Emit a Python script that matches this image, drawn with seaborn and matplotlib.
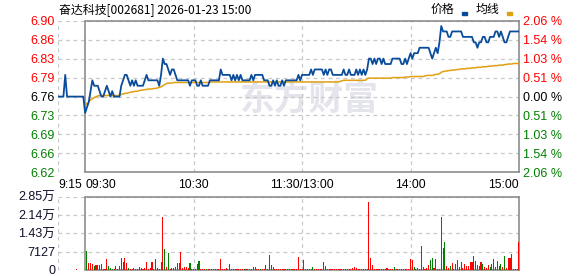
import numpy as np
import pandas as pd
import matplotlib
matplotlib.use("Agg")
import matplotlib.pyplot as plt
from matplotlib.patches import Rectangle
import seaborn as sns

# ---------------- data ----------------
title = "奋达科技[002681] 2026-01-23 15:00"
pre_close = 6.76
limit_pct = 0.0206

pre_minutes = list(range(-15, 0))          # 9:15 .. 9:29
pre_price = [6.76, 6.76, 6.76, 6.76, 6.80, 6.76, 6.76, 6.76, 6.76, 6.76,
             6.76, 6.76, 6.76, 6.76, 6.76]

session_minutes = list(range(0, 241))      # 9:30 .. 11:30 | 13:00 .. 15:00
session_price = [
    6.73, 6.74, 6.75, 6.77, 6.79, 6.78, 6.78, 6.78, 6.77, 6.76,
    6.76, 6.77, 6.78, 6.77, 6.76, 6.77, 6.76, 6.76, 6.76, 6.76,
    6.78, 6.79, 6.80, 6.80, 6.79, 6.78, 6.79, 6.78, 6.79, 6.78,
    6.78, 6.78, 6.78, 6.79, 6.80, 6.79, 6.79, 6.79, 6.79, 6.79,
    6.79, 6.78, 6.80, 6.83, 6.82, 6.82, 6.81, 6.80, 6.81, 6.81,
    6.80, 6.79, 6.79, 6.79, 6.79, 6.79, 6.79, 6.79, 6.78, 6.79,
    6.79, 6.79, 6.78, 6.78, 6.79, 6.78, 6.78, 6.78, 6.78, 6.79,
    6.79, 6.79, 6.79, 6.79, 6.79, 6.81, 6.80, 6.80, 6.80, 6.80,
    6.80, 6.79, 6.80, 6.79, 6.80, 6.79, 6.80, 6.79, 6.79, 6.79,
    6.79, 6.79, 6.80, 6.79, 6.80, 6.80, 6.80, 6.80, 6.80, 6.79,
    6.79, 6.79, 6.78, 6.78, 6.79, 6.78, 6.79, 6.78, 6.78, 6.79,
    6.78, 6.79, 6.79, 6.79, 6.79, 6.79, 6.79, 6.79, 6.80, 6.79,
    6.80, 6.80, 6.80, 6.80, 6.80, 6.81, 6.80, 6.81, 6.81, 6.81,
    6.81, 6.81, 6.80, 6.81, 6.80, 6.81, 6.81, 6.80, 6.80, 6.80,
    6.80, 6.80, 6.80, 6.81, 6.80, 6.80, 6.81, 6.80, 6.80, 6.80,
    6.81, 6.80, 6.81, 6.80, 6.81, 6.80, 6.81, 6.83, 6.83, 6.82,
    6.83, 6.82, 6.83, 6.83, 6.82, 6.83, 6.82, 6.82, 6.82, 6.82,
    6.83, 6.83, 6.83, 6.83, 6.83, 6.82, 6.82, 6.83, 6.82, 6.83,
    6.84, 6.83, 6.84, 6.84, 6.84, 6.85, 6.85, 6.85, 6.85, 6.85,
    6.85, 6.84, 6.83, 6.84, 6.85, 6.84, 6.86, 6.89, 6.88, 6.88,
    6.88, 6.87, 6.87, 6.88, 6.88, 6.88, 6.88, 6.88, 6.88, 6.87,
    6.87, 6.87, 6.87, 6.87, 6.87, 6.86, 6.86, 6.85, 6.86, 6.86,
    6.87, 6.87, 6.86, 6.86, 6.87, 6.87, 6.87, 6.88, 6.88, 6.87,
    6.88, 6.87, 6.86, 6.86, 6.87, 6.88, 6.88, 6.88, 6.88, 6.88, 6.88,
]

avg_price = [
    6.751, 6.745, 6.750, 6.754, 6.756, 6.758, 6.760, 6.761, 6.762, 6.762,
    6.762, 6.762, 6.762, 6.762, 6.762, 6.762, 6.762, 6.762, 6.762, 6.762,
    6.764, 6.765, 6.766, 6.766, 6.767, 6.768, 6.769, 6.769, 6.770, 6.770,
    6.771, 6.772, 6.772, 6.773, 6.773, 6.774, 6.774, 6.774, 6.775, 6.775,
    6.776, 6.777, 6.778, 6.780, 6.782, 6.784, 6.785, 6.785, 6.785, 6.786,
    6.786, 6.786, 6.786, 6.786, 6.786, 6.786, 6.786, 6.786, 6.786, 6.786,
    6.786, 6.786, 6.786, 6.786, 6.786, 6.786, 6.786, 6.786, 6.786, 6.786,
    6.787, 6.787, 6.787, 6.787, 6.787, 6.787, 6.787, 6.787, 6.787, 6.787,
    6.787, 6.787, 6.787, 6.787, 6.787, 6.787, 6.787, 6.787, 6.787, 6.787,
    6.787, 6.787, 6.787, 6.787, 6.787, 6.787, 6.787, 6.787, 6.787, 6.787,
    6.787, 6.787, 6.787, 6.787, 6.787, 6.787, 6.787, 6.787, 6.787, 6.787,
    6.787, 6.787, 6.787, 6.787, 6.787, 6.787, 6.787, 6.787, 6.787, 6.787,
    6.787, 6.787, 6.787, 6.787, 6.787, 6.787, 6.787, 6.787, 6.787, 6.787,
    6.787, 6.787, 6.787, 6.787, 6.787, 6.787, 6.787, 6.787, 6.787, 6.787,
    6.787, 6.788, 6.789, 6.790, 6.790, 6.790, 6.790, 6.790, 6.790, 6.790,
    6.790, 6.790, 6.790, 6.790, 6.790, 6.790, 6.793, 6.794, 6.794, 6.794,
    6.794, 6.794, 6.794, 6.794, 6.794, 6.794, 6.794, 6.794, 6.794, 6.794,
    6.795, 6.795, 6.795, 6.795, 6.795, 6.795, 6.795, 6.796, 6.796, 6.796,
    6.797, 6.797, 6.797, 6.797, 6.797, 6.797, 6.797, 6.797, 6.798, 6.799,
    6.799, 6.799, 6.799, 6.800, 6.801, 6.801, 6.802, 6.805, 6.806, 6.807,
    6.807, 6.808, 6.808, 6.809, 6.809, 6.809, 6.810, 6.810, 6.811, 6.811,
    6.811, 6.812, 6.812, 6.812, 6.813, 6.813, 6.813, 6.814, 6.814, 6.814,
    6.815, 6.815, 6.815, 6.816, 6.816, 6.816, 6.817, 6.817, 6.817, 6.818,
    6.818, 6.818, 6.819, 6.819, 6.820, 6.820, 6.820, 6.821, 6.821, 6.821, 6.821,
]

auction_minute = -5
auction_volume = 390
auction_dir = "r"

volume = [
    0,
    7390, 2720, 2720, 2330, 1560, 1950, 1950, 1950, 2200, 390,
    390, 4280, 1560, 910, 390, 390, 1560, 390, 1560, 4800,
    2980, 4800, 2590, 650, 390, 390, 650, 390, 390, 1040,
    650, 390, 910, 3240, 390, 910, 2980, 390, 4280, 910,
    390, 3240, 20620, 8170, 1040, 6610, 390, 650, 910, 1040,
    2590, 2850, 7000, 910, 1040, 1040, 650, 2720, 390, 390,
    390, 2200, 3500, 390, 390, 390, 390, 390, 390, 390,
    390, 390, 390, 390, 4280, 390, 390, 910, 390, 2330,
    390, 390, 390, 390, 390, 390, 390, 390, 390, 390,
    390, 390, 1040, 1170, 390, 390, 390, 390, 390, 1950,
    390, 5840, 1950, 1300, 390, 390, 390, 390, 390, 390,
    390, 390, 390, 390, 390, 390, 390, 5060, 390, 390,
    3890, 390, 390, 390, 390, 1040, 390, 390, 390, 390,
    390, 3110, 1560, 390, 390, 390, 390, 390, 390, 390,
    390, 390, 390, 390, 390, 390, 390, 910, 1040, 650,
    390, 390, 390, 390, 390, 390, 26460, 4540, 1950, 390,
    390, 390, 390, 390, 390, 390, 650, 390, 390, 390,
    1170, 390, 390, 390, 390, 390, 390, 390, 390, 4280,
    3890, 1300, 390, 910, 390, 9340, 1040, 390, 910, 1950,
    3890, 4670, 650, 4280, 390, 390, 20620, 8690, 11020, 1560,
    910, 1560, 2590, 390, 2200, 3890, 1300, 3240, 910, 2200,
    1560, 1560, 3240, 3240, 5450, 3500, 1950, 1690, 3240, 2200,
    1300, 910, 1950, 1040, 2330, 4150, 1300, 3500, 1560, 2200,
    1300, 5450, 910, 4800, 4800, 6230, 390, 390, 390, 11020,
]
volume_dir = list(
    "r"
    "grrrgrrgrr" "rrgggrrrrr" "rrrgrrrgrg" "rrrrrrrrrg" "rrrgrgrrrr"
    "rgrrrrrgrr" "rrgrrrgrrr" "rrrrrrrrrr" "rrgrrrrgrr" "rrrrrrgrrg"
    "rgrrrrrrrr" "rrrrrrrrrr" "rrrgrgrrrr" "rrrrrrrrrr" "rrrrgrrrrr"
    "rrrrrrrrrr" "rrrrrrrrrr" "grrrrrrrrr" "rgrrrrrrrr" "ggrrrrrrgr"
    "rgrrrrrrrr" "rrrrrggrrg" "rrrgrrrgrg" "rgrrrgrrrr"
)

price_tick_labels = ["6.62", "6.66", "6.69", "6.73", "6.76", "6.79", "6.83", "6.86", "6.90"]
pct_tick_labels = ["2.06 %", "1.54 %", "1.03 %", "0.51 %", "0.00 %", "0.51 %", "1.03 %", "1.54 %", "2.06 %"]
vol_step = 7127
vol_tick_labels = ["0", "7127", "1.43万", "2.14万", "2.85万"]
time_ticks = [-15, 0, 60, 120, 180, 240]
time_labels = ["9:15", "09:30", "10:30", "11:30/13:00", "14:00", "15:00"]
time_align = ["left", "left", "center", "center", "center", "right"]
legend_labels = ["价格", "均线"]

# ---------------- style ----------------
sns.set_theme(style="white")
plt.rcParams["font.family"] = ["Liberation Sans", "Noto Sans CJK SC", "DejaVu Sans"]

RED = "#FF0000"
GREEN = "#008000"
BLUE = "#0A4C9C"
ORANGE = "#E0A010"
GRID = "#C8C8C8"
SPINE = "#8C8C8C"
DASH = (0, (3, 3))

W, H = 578, 276
fig = plt.figure(figsize=(W / 100, H / 100), dpi=100)
ax = fig.add_axes([58 / W, (H - 172.2) / H, 461 / W, 151.2 / H])
axv = fig.add_axes([58 / W, (H - 270) / H, 461 / W, 73.3 / H])

# ---------------- price panel ----------------
ylo = pre_close * (1 - limit_pct)
yhi = pre_close * (1 + limit_pct)
yt = np.linspace(ylo, yhi, len(price_tick_labels))

line_df = pd.DataFrame({"minute": pre_minutes + session_minutes,
                        "price": pre_price + session_price})
avg_df = pd.DataFrame({"minute": session_minutes, "avg": avg_price})

ax.text(0.545, 0.485, "东方财富", transform=ax.transAxes, ha="center", va="center",
        fontsize=25, fontweight="bold", color="#E4E4EC", family=["Noto Sans CJK SC"], zorder=0)

for y in yt:
    ax.axhline(y, color=GRID, lw=0.9, ls=DASH, zorder=1)
for x in [-15, 60, 120, 180]:
    ax.axvline(x, color=GRID, lw=0.9, ls=DASH, zorder=1)
ax.axvline(0, color=SPINE, lw=1.2, zorder=2)

sns.lineplot(data=avg_df, x="minute", y="avg", ax=ax, color=ORANGE, lw=1.1, zorder=3)
sns.lineplot(data=line_df, x="minute", y="price", ax=ax, color=BLUE, lw=1.3, zorder=4)

ax.set_xlim(-15, 240)
ax.set_ylim(ylo, yhi)
ax.set_xlabel("")
ax.set_ylabel("")
ax.set_yticks(yt, price_tick_labels)
ax.set_xticks(time_ticks, time_labels)
ax.tick_params(axis="y", length=0, pad=2.5, labelsize=9)
ax.tick_params(axis="x", length=0, pad=5, labelsize=8.7, colors="black")
for lab, ha in zip(ax.get_xticklabels(), time_align):
    lab.set_horizontalalignment(ha)
for lab, v in zip(ax.get_yticklabels(), yt):
    lab.set_color(RED if v > pre_close + 1e-6 else (GREEN if v < pre_close - 1e-6 else "black"))

for s in ["top", "bottom", "right"]:
    ax.spines[s].set_color(SPINE)
    ax.spines[s].set_linewidth(1.2)
ax.spines["left"].set_visible(False)
ax.spines["top"].set_bounds(0, 240)
ax.spines["bottom"].set_bounds(0, 240)

ax2 = ax.twinx()
ax2.set_ylim(ylo, yhi)
ax2.set_yticks(yt, pct_tick_labels)
ax2.tick_params(axis="y", length=0, pad=3, labelsize=9)
for lab, v in zip(ax2.get_yticklabels(), yt):
    lab.set_color(RED if v > pre_close + 1e-6 else (GREEN if v < pre_close - 1e-6 else "black"))
for s in ax2.spines.values():
    s.set_visible(False)

# ---------------- volume panel ----------------
vol_df = pd.DataFrame({"minute": [auction_minute] + session_minutes,
                       "volume": [auction_volume] + volume,
                       "dir": [auction_dir] + volume_dir})
sns.barplot(data=vol_df, x="minute", y="volume", hue="dir", ax=axv,
            palette={"r": RED, "g": GREEN}, native_scale=True, dodge=False,
            width=0.6, errorbar=None, legend=False, saturation=1, linewidth=0, zorder=3)

vt = [i * vol_step for i in range(len(vol_tick_labels))]
for y in vt:
    axv.axhline(y, color=GRID, lw=0.9, ls=DASH, zorder=1)
for x in [-15, 60, 120, 180]:
    axv.axvline(x, color=GRID, lw=0.9, ls=DASH, zorder=1)
axv.axvline(0, color=SPINE, lw=1.2, zorder=4)
axv.set_xlim(-15, 240)
axv.set_ylim(0, vt[-1])
axv.set_xlabel("")
axv.set_ylabel("")
axv.set_yticks(vt, vol_tick_labels)
axv.set_xticks([])
axv.tick_params(axis="y", length=0, pad=2, labelsize=9, colors="#10102a")
for s in ["top", "bottom", "right"]:
    axv.spines[s].set_color(SPINE)
    axv.spines[s].set_linewidth(1.2)
axv.spines["left"].set_visible(False)
axv.spines["top"].set_bounds(0, 240)
axv.spines["bottom"].set_bounds(0, 240)

# ---------------- header ----------------
fig.text(59 / W, 1 - 9.5 / H, title, ha="left", va="center", fontsize=8.6,
         family=["Noto Sans CJK SC", "DejaVu Sans"], color="black")
fig.text(431 / W, 1 - 9.5 / H, legend_labels[0], ha="left", va="center", fontsize=8.6,
         family=["Noto Sans CJK SC"], color="black")
fig.text(476 / W, 1 - 9.5 / H, legend_labels[1], ha="left", va="center", fontsize=8.6,
         family=["Noto Sans CJK SC"], color="black")
fig.patches.append(Rectangle((462 / W, 1 - 15 / H), 4.5 / W, 2.5 / H,
                             transform=fig.transFigure, color=BLUE, figure=fig))
fig.patches.append(Rectangle((507 / W, 1 - 15 / H), 4.5 / W, 2.5 / H,
                             transform=fig.transFigure, color=ORANGE, figure=fig))

fig.savefig("out.png", dpi=100)
